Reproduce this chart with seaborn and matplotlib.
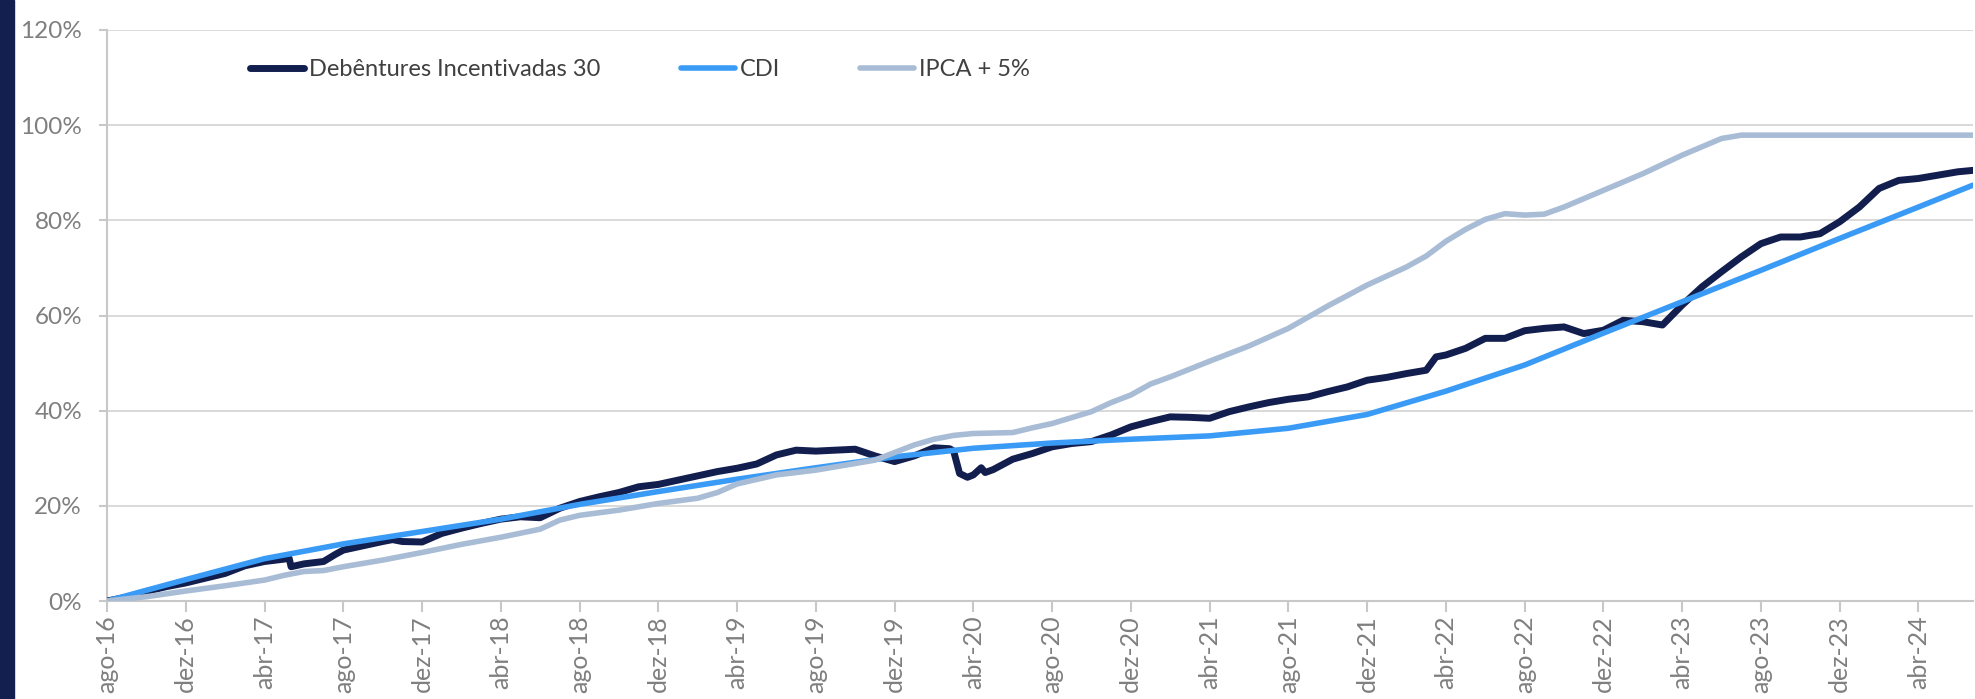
import matplotlib
matplotlib.use("Agg")
import matplotlib.pyplot as plt
import seaborn as sns
import pandas as pd
from matplotlib.patches import Rectangle
from matplotlib.lines import Line2D

# ---------------- data (months since ago-16, cumulative return in %) ----------------
tick_labels = ["ago-16", "dez-16", "abr-17", "ago-17", "dez-17", "abr-18", "ago-18", "dez-18",
               "abr-19", "ago-19", "dez-19", "abr-20", "ago-20", "dez-20", "abr-21", "ago-21",
               "dez-21", "abr-22", "ago-22", "dez-22", "abr-23", "ago-23", "dez-23", "abr-24"]
tick_months = [0, 4, 8, 12, 16, 20, 24, 28, 32, 36, 40, 44, 48, 52, 56, 60, 64, 68, 72, 76, 80, 84, 88, 92]
last_month = 94.77

deb_months = [0, 1, 2, 3, 4, 5, 6, 7, 8, 9, 9.25, 9.35, 10, 11, 11.6, 12, 13, 14, 14.5, 15, 16, 17, 18,
              19, 20, 21, 22, 23, 24, 25, 26, 27, 28, 29, 30, 31, 32, 33, 34, 35, 36, 37, 38, 39, 40,
              41, 42, 42.8, 43.0, 43.3, 43.7, 44.0, 44.4, 44.6, 45, 46, 47, 48, 49, 50, 51, 52, 53, 54,
              55, 56, 57, 58, 59, 60, 61, 62, 63, 64, 65, 66, 67, 67.5, 68, 69, 70, 71, 72, 73, 74, 75,
              76, 77, 78, 79, 80, 81, 82, 83, 84, 85, 86, 87, 88, 89, 90, 91, 92, 93, 94, 94.77]
deb_values = [0, 0.8, 2.0, 3.0, 3.8, 4.8, 5.8, 7.4, 8.3, 8.8, 9.0, 7.2, 7.8, 8.3, 9.8, 10.7, 11.6, 12.5,
              12.9, 12.5, 12.4, 14.2, 15.3, 16.3, 17.2, 17.7, 17.5, 19.5, 20.9, 21.9, 22.8, 24.0, 24.5,
              25.4, 26.3, 27.2, 27.9, 28.8, 30.7, 31.7, 31.5, 31.7, 31.9, 30.5, 29.3, 30.5, 32.2, 32.0,
              31.5, 26.8, 26.0, 26.5, 28.0, 27.0, 27.6, 29.8, 31.0, 32.4, 33.1, 33.5, 34.9, 36.6, 37.7,
              38.7, 38.6, 38.4, 39.8, 40.8, 41.7, 42.4, 42.9, 44.0, 45.0, 46.4, 47.0, 47.8, 48.5, 51.3,
              51.7, 53.1, 55.2, 55.2, 56.8, 57.3, 57.6, 56.2, 56.9, 59.0, 58.7, 58.0, 62.2, 66.0, 69.2,
              72.3, 75.1, 76.5, 76.5, 77.2, 79.7, 82.8, 86.7, 88.4, 88.8, 89.5, 90.2, 90.5]

cdi_months = [0, 4, 8, 12, 16, 20, 24, 28, 32, 36, 40, 44, 48, 52, 56, 60, 64, 68, 72, 76, 80, 84,
              88, 92, 94.77]
cdi_values = [0, 4.5, 8.9, 12.0, 14.6, 17.2, 20.3, 23.0, 25.6, 28.0, 30.3, 32.1, 33.2, 34.0, 34.7,
              36.3, 39.2, 44.1, 49.6, 56.3, 62.9, 69.5, 76.2, 82.8, 87.4]

ipca_months = [0, 2, 4, 6, 8, 9, 10, 11, 12, 14, 16, 18, 20, 22, 23, 24, 26, 28, 30, 31, 32, 34, 36,
               38, 39, 40, 41, 42, 43, 44, 45, 46, 47, 48, 50, 51, 52, 53, 54, 56, 58, 60, 62, 64, 66,
               67, 68, 69, 70, 71, 72, 73, 74, 76, 78, 80, 82, 83, 94.77]
ipca_values = [0, 0.9, 2.1, 3.2, 4.4, 5.4, 6.2, 6.4, 7.2, 8.6, 10.2, 11.9, 13.4, 15.1, 17.0, 18.0,
               19.1, 20.5, 21.6, 22.8, 24.6, 26.5, 27.5, 28.9, 29.6, 31.2, 32.8, 34.0, 34.8, 35.2,
               35.3, 35.4, 36.4, 37.3, 39.8, 41.7, 43.3, 45.6, 47.1, 50.4, 53.6, 57.3, 62.0, 66.4,
               70.2, 72.5, 75.6, 78.1, 80.2, 81.4, 81.1, 81.3, 82.8, 86.3, 89.8, 93.7, 97.2, 97.9, 97.9]

series_names = ["Debêntures Incentivadas 30", "CDI", "IPCA + 5%"]
colors = ["#121E4E", "#3A9BF6", "#A8BCD6"]
widths = [5.0, 4.0, 4.0]

# ---------------- figure ----------------
sns.set_theme(style="white")
plt.rcParams["font.family"] = ["Lato", "DejaVu Sans"]

fig = plt.figure(figsize=(19.75, 6.99), dpi=100)
fig.patch.set_facecolor("white")
ax = fig.add_axes([107 / 1975, 1 - 601 / 699, (1973 - 107) / 1975, (601 - 30) / 699])
fig.patches.append(Rectangle((0, 0), 14 / 1975, 1, transform=fig.transFigure,
                             color="#131F4F", zorder=0))

frames = [
    pd.DataFrame({"mes": deb_months, "valor": deb_values}),
    pd.DataFrame({"mes": cdi_months, "valor": cdi_values}),
    pd.DataFrame({"mes": ipca_months, "valor": ipca_values}),
]
for df, name, c, lw, z in zip(frames, series_names, colors, widths, [3, 4, 5]):
    sns.lineplot(data=df, x="mes", y="valor", ax=ax, color=c, linewidth=lw,
                 estimator=None, sort=False, zorder=z, solid_capstyle="round",
                 solid_joinstyle="round")

ax.set_xlim(0, last_month)
ax.set_ylim(0, 120)
ax.set_xlabel("")
ax.set_ylabel("")

ax.set_xticks(tick_months)
ax.set_xticklabels(tick_labels, rotation=90, fontsize=18, color="#7F7F7F")
ax.set_yticks(range(0, 121, 20))
ax.set_yticklabels([f"{v}%" for v in range(0, 121, 20)], fontsize=17.5, color="#7F7F7F")

ax.yaxis.grid(True, color="#D9D9D9", linewidth=1.4)
ax.xaxis.grid(False)
ax.set_axisbelow(True)
for s in ["top", "right"]:
    ax.spines[s].set_visible(False)
for s in ["left", "bottom"]:
    ax.spines[s].set_color("#C8C8C8")
    ax.spines[s].set_linewidth(1.5)
ax.tick_params(axis="x", direction="out", length=8, width=1.5, color="#C8C8C8", pad=2,
               bottom=True)
ax.tick_params(axis="y", direction="out", length=6, width=1.5, color="#C8C8C8", pad=12,
               left=True)

handles = [Line2D([0], [0], color=c, linewidth=lw, solid_capstyle="round")
           for c, lw in zip(colors, widths)]
leg = ax.legend(handles, series_names, loc="center left", bbox_to_anchor=(0.0766, 0.93),
                ncol=3, frameon=False, handlelength=2.3, handletextpad=0.2,
                columnspacing=3.4, borderpad=0, borderaxespad=0,
                prop={"size": 17})
for t in leg.get_texts():
    t.set_color("#404040")

fig.savefig("out.png", dpi=100)
